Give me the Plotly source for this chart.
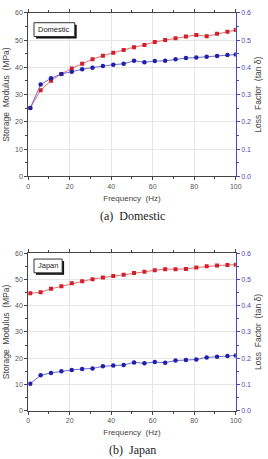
import plotly.graph_objects as go

freq = [1, 6, 11, 16, 21, 26, 31, 36, 41, 46, 51, 56, 61, 66, 71, 76, 81, 86, 91, 96, 100]

dom_storage = [25.1, 31.6, 35.1, 37.6, 39.6, 41.3, 43.0, 44.3, 45.4, 46.4, 47.4,
               48.2, 49.3, 50.0, 50.7, 51.3, 51.9, 51.4, 52.3, 53.1, 53.7]
dom_loss = [0.251, 0.337, 0.360, 0.376, 0.384, 0.393, 0.399, 0.405, 0.410, 0.413, 0.424,
            0.419, 0.423, 0.424, 0.430, 0.434, 0.436, 0.439, 0.442, 0.445, 0.447]

jp_storage = [44.75, 45.1, 46.4, 47.4, 48.5, 49.25, 50.1, 50.75, 51.25, 51.75, 52.45,
              52.9, 53.5, 53.9, 53.9, 54.0, 54.5, 55.0, 55.25, 55.5, 55.6]
jp_loss = [0.103, 0.135, 0.144, 0.150, 0.155, 0.159, 0.161, 0.169, 0.172, 0.174, 0.184,
           0.181, 0.185, 0.183, 0.191, 0.193, 0.195, 0.203, 0.205, 0.208, 0.210]

x_ticks = [0, 20, 40, 60, 80, 100]
left_ticks = [0, 10, 20, 30, 40, 50, 60]
right_ticks = [0.0, 0.1, 0.2, 0.3, 0.4, 0.5, 0.6]
right_labels = ["0.0", "0.1", "0.2", "0.3", "0.4", "0.5", "0.6"]

RED_M = "#d21f2a"
RED_L = "#e86a70"
BLUE_M = "#1f1fa8"
BLUE_L = "#6a6ad8"
BLUE_AX = "#4a4ab8"
GRAY = "#555555"

fig = go.Figure()

def add_pair(xa, ya, yb, s, l):
    fig.add_trace(go.Scatter(x=freq, y=s, xaxis=xa, yaxis=ya, mode="lines+markers",
                             line=dict(color=RED_L, width=1),
                             marker=dict(symbol="square", size=4, color=RED_M),
                             showlegend=False))
    fig.add_trace(go.Scatter(x=freq, y=l, xaxis=xa, yaxis=yb, mode="lines+markers",
                             line=dict(color=BLUE_L, width=1),
                             marker=dict(symbol="circle", size=4.5, color=BLUE_M),
                             showlegend=False))

add_pair("x", "y", "y2", dom_storage, dom_loss)
add_pair("x2", "y3", "y4", jp_storage, jp_loss)

tick_font = dict(family="Liberation Sans, Arial", size=7, color=GRAY)
title_font = dict(family="Liberation Sans, Arial", size=8.5, color="#444444")
xtitle_font = dict(family="Liberation Sans, Arial", size=8, color="#444444")

def xaxis(anchor):
    return dict(domain=[0.1007, 0.899], anchor=anchor, range=[0, 100],
                tickvals=x_ticks, ticks="outside", ticklen=3, tickcolor="#444",
                minor=dict(dtick=10, ticks="outside", ticklen=2, tickcolor="#444", showgrid=False),
                showline=True, linecolor="#444", linewidth=1, mirror="ticks",
                showgrid=True, gridcolor="#e6e6e6", gridwidth=1, zeroline=False,
                tickfont=tick_font, title=dict(text="Frequency  (Hz)", font=xtitle_font, standoff=6))

def yleft(domain, anchor):
    return dict(domain=domain, anchor=anchor, range=[0, 60], tickvals=left_ticks,
                ticks="outside", ticklen=3, tickcolor="#444",
                minor=dict(dtick=5, ticks="outside", ticklen=2, tickcolor="#444", showgrid=False),
                showline=True, linecolor="#444", linewidth=1,
                showgrid=True, gridcolor="#e6e6e6", zeroline=False,
                tickfont=tick_font, title=dict(text="Storage  Modulus  (MPa)", font=title_font, standoff=4))

def yright(overlay, anchor):
    return dict(overlaying=overlay, anchor=anchor, side="right", range=[0, 0.6],
                tickvals=right_ticks, ticktext=right_labels,
                ticks="outside", ticklen=3, tickcolor=BLUE_AX,
                minor=dict(dtick=0.05, ticks="outside", ticklen=2, tickcolor=BLUE_AX, showgrid=False),
                showline=True, linecolor=BLUE_AX, linewidth=1.2, showgrid=False, zeroline=False,
                tickfont=dict(family="Liberation Sans, Arial", size=7, color=BLUE_AX),
                title=dict(text="Loss  Factor  (tan δ)", font=title_font, standoff=4))

fig.update_layout(
    width=268, height=459,
    margin=dict(l=0, r=0, t=0, b=0),
    paper_bgcolor="white", plot_bgcolor="white",
    xaxis=xaxis("y"),
    yaxis=yleft([0.6187, 0.9804], "x"),
    yaxis2=yright("y", "x"),
    xaxis2=xaxis("y3"),
    yaxis3=yleft([0.1002, 0.4488], "x2"),
    yaxis4=yright("y3", "x2"),
)

box_font = dict(family="Liberation Sans, Arial", size=7.5, color="#222")
W, H = 268.0, 459.0

def label_box(text, px0, py0, px1, py1):
    x0, x1 = px0 / W, px1 / W
    y0, y1 = 1 - py1 / H, 1 - py0 / H
    dx, dy = 2 / W, 2 / H
    fig.add_shape(type="rect", xref="paper", yref="paper", x0=x0 + dx, y0=y0 - dy,
                  x1=x1 + dx, y1=y1 - dy, fillcolor="#111", line=dict(width=0), layer="above")
    fig.add_shape(type="rect", xref="paper", yref="paper", x0=x0, y0=y0, x1=x1, y1=y1,
                  fillcolor="white", line=dict(color="#333", width=1), layer="above")
    fig.add_annotation(xref="paper", yref="paper", x=(x0 + x1) / 2, y=(y0 + y1) / 2,
                       xanchor="center", yanchor="middle", text=text, showarrow=False, font=box_font)

label_box("Domestic", 33, 19, 75, 33)
label_box("Japan", 33, 259, 62, 273)

cap_font = dict(family="Liberation Serif, Times New Roman", size=12, color="#222")
fig.add_annotation(xref="paper", yref="paper", x=0.5, y=1 - 215 / H, text="(a)  Domestic",
                   showarrow=False, font=cap_font, yanchor="middle")
fig.add_annotation(xref="paper", yref="paper", x=0.5, y=1 - 453 / H, text="(b)  Japan",
                   showarrow=False, font=cap_font, yanchor="middle")

fig.write_html("out.html")
